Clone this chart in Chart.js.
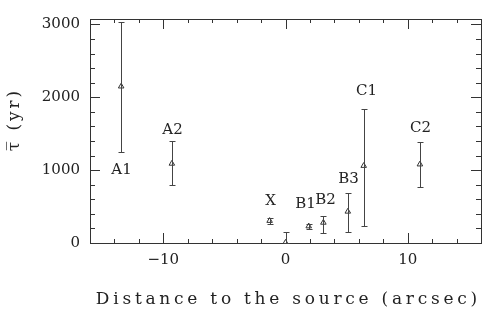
<!DOCTYPE html>
<html><head><meta charset="utf-8">
<script src="https://cdn.jsdelivr.net/npm/chart.js@4/dist/chart.umd.min.js"></script>
<style>html,body{margin:0;padding:0;background:#fff}#wrap{width:490px;height:323px}</style>
</head><body><div id="wrap"><canvas id="c" width="490" height="323"></canvas></div>
<script>
// ---- data ----
const names = ['A1', 'A2', 'X', '', 'B1', 'B2', 'B3', 'C1', 'C2'];
const xs    = [-13.45, -9.3, -1.3, 0, 1.9, 3.1, 5.1, 6.4, 11.0];
const taus  = [2150, 1090, 305, 5, 230, 280, 432, 1060, 1080];
const upper = [3030, 1400, 350, 150, 264, 375, 680, 1835, 1380];
const lower = [1255, 800, 264, 0, 197, 138, 150, 230, 763];
const xTicks = [-10, 0, 10];
const yTicks = [0, 1000, 2000, 3000];
const xTitle = 'Distance to the source (arcsec)';
const yTitle = '\u03C4\u0305 (yr)';

// ---- styles ----
const ink = '#333';
const labelDx = [0, 0, 0, 0, -4, 2, 0, 2, 0];
const labelDy = [18, -11, -17, 0, -20, -16, -14, -18, -14];
const titleFont = '17px "DejaVu Serif"';

function spacedText(ctx, text, x, y, targetWidth) {
  ctx.letterSpacing = '0px';
  const w = ctx.measureText(text).width;
  const n = [...text].length;
  const sp = Math.max(0, (targetWidth - w) / n);
  ctx.letterSpacing = sp.toFixed(2) + 'px';
  ctx.fillText(text, x + sp / 2, y);
}

const decor = {
  id: 'decor',
  afterDatasetsDraw(chart) {
    const ctx = chart.ctx, xs_ = chart.scales.x, ys_ = chart.scales.y, a = chart.chartArea;
    ctx.save();
    ctx.strokeStyle = ink; ctx.lineWidth = 1;
    ctx.strokeRect(Math.round(a.left) + 0.5, Math.round(a.top) + 0.5, Math.round(a.right - a.left), Math.round(a.bottom - a.top));
    for (let v = xs_.min; v <= xs_.max; v += 2) {
      const p = Math.round(xs_.getPixelForValue(v)) + 0.5;
      const len = xTicks.includes(v) ? 10 : 4;
      ctx.beginPath();
      ctx.moveTo(p, a.bottom); ctx.lineTo(p, a.bottom - len);
      ctx.moveTo(p, a.top); ctx.lineTo(p, a.top + len);
      ctx.stroke();
    }
    for (let v = 0; v <= ys_.max; v += 200) {
      const p = Math.round(ys_.getPixelForValue(v)) + 0.5;
      const len = yTicks.includes(v) ? 10 : 5;
      ctx.beginPath();
      ctx.moveTo(a.left, p); ctx.lineTo(a.left + len, p);
      ctx.moveTo(a.right, p); ctx.lineTo(a.right - len, p);
      ctx.stroke();
    }
    ctx.strokeStyle = '#444';
    ctx.fillStyle = '#222';
    ctx.font = '15px "DejaVu Serif"';
    ctx.textAlign = 'center'; ctx.textBaseline = 'middle';
    for (let i = 0; i < xs.length; i++) {
      const px = Math.round(xs_.getPixelForValue(xs[i])) + 0.5;
      const pt = Math.round(ys_.getPixelForValue(upper[i])) + 0.5;
      const pb = Math.round(ys_.getPixelForValue(lower[i])) + 0.5;
      ctx.beginPath();
      ctx.moveTo(px, pt); ctx.lineTo(px, pb);
      ctx.moveTo(px - 3, pt); ctx.lineTo(px + 3, pt);
      ctx.moveTo(px - 3, pb); ctx.lineTo(px + 3, pb);
      ctx.stroke();
      if (names[i]) {
        const ly = labelDy[i] > 0 ? pb + labelDy[i] : pt + labelDy[i];
        ctx.fillText(names[i], px + labelDx[i], ly);
      }
    }
    ctx.fillStyle = '#222';
    ctx.font = titleFont;
    spacedText(ctx, xTitle, (a.left + a.right) / 2 + 1, 300, 385);
    ctx.translate(15, 121);
    ctx.rotate(-Math.PI / 2);
    spacedText(ctx, yTitle, 0, 0, 66);
    ctx.restore();
  }
};

new Chart(document.getElementById('c'), {
  type: 'scatter',
  data: {
    datasets: [{
      data: xs.map((x, i) => ({ x: x, y: taus[i] })),
      pointStyle: 'triangle',
      radius: 3.2,
      borderColor: ink,
      backgroundColor: 'rgba(0,0,0,0)',
      borderWidth: 1
    }]
  },
  options: {
    responsive: false,
    animation: false,
    events: [],
    layout: { padding: { top: 13, right: 9, left: 0, bottom: 0 } },
    plugins: { legend: { display: false }, tooltip: { enabled: false } },
    scales: {
      x: {
        type: 'linear', min: -16, max: 16,
        afterBuildTicks: s => { s.ticks = xTicks.map(v => ({ value: v })); },
        afterFit: s => { s.height = 80; },
        grid: { display: false, drawTicks: false },
        border: { display: false },
        ticks: {
          padding: 8, color: '#222', font: { family: 'DejaVu Serif', size: 15 },
          callback: v => v < 0 ? '\u2212' + Math.abs(v) : String(v)
        }
      },
      y: {
        type: 'linear', min: 0, max: 3075,
        afterBuildTicks: s => { s.ticks = yTicks.map(v => ({ value: v })); },
        afterFit: s => { s.width = 90; },
        grid: { display: false, drawTicks: false },
        border: { display: false },
        ticks: {
          padding: 10, color: '#222', font: { family: 'DejaVu Serif', size: 15 },
          callback: v => String(v)
        }
      }
    }
  },
  plugins: [decor]
});
</script></body></html>
